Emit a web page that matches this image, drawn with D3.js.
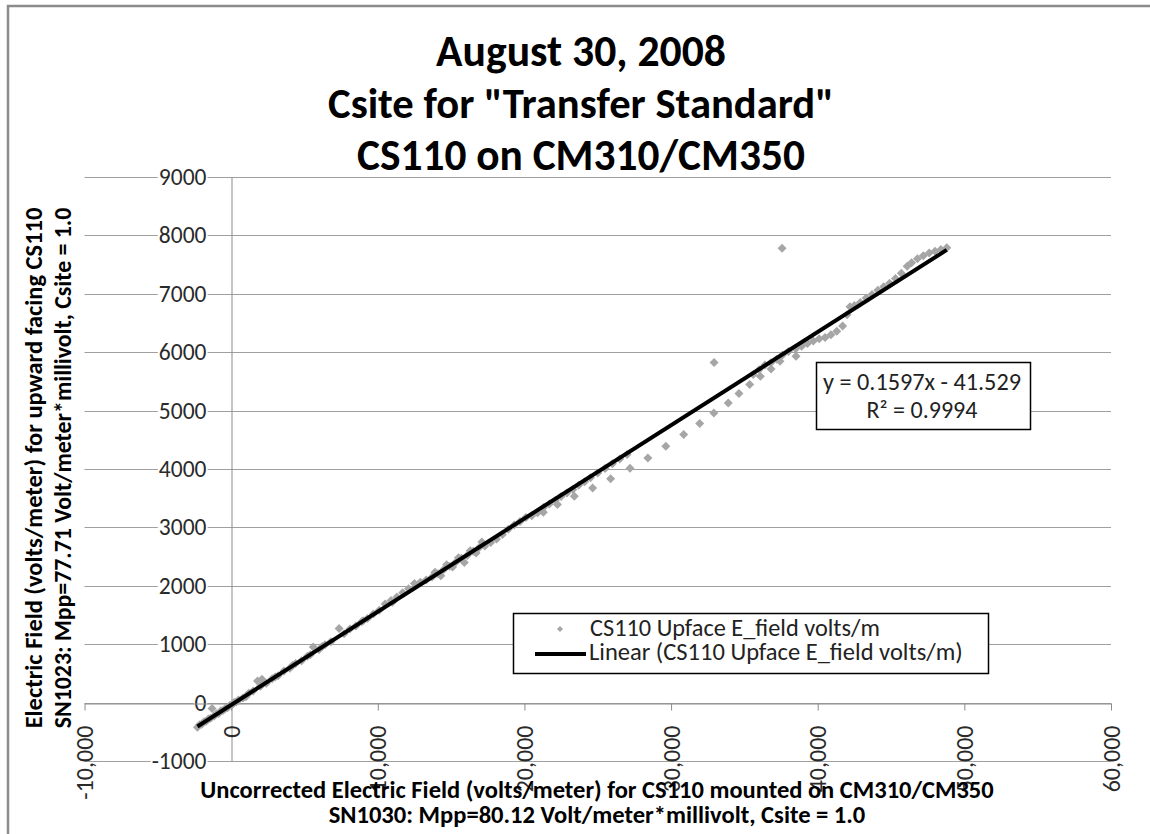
<!DOCTYPE html>
<html>
<head>
<meta charset="utf-8">
<script src="https://cdn.jsdelivr.net/npm/d3@7"></script>
<style>
  body { margin: 0; background: #fff; }
  text { font-family: Carlito, Lato, "Open Sans", sans-serif; }
</style>
</head>
<body>
<svg id="chart"></svg>
<script>
const width = 1150;
const height = 834;

// Text of the chart
const titleLines = ["August 30, 2008", "Csite for \"Transfer Standard\"", "CS110 on CM310/CM350"];
const xTitleLines = [
  "Uncorrected Electric Field (volts/meter) for CS110 mounted on CM310/CM350",
  "SN1030: Mpp=80.12 Volt/meter*millivolt, Csite = 1.0"
];
const yTitleLines = [
  "Electric Field (volts/meter) for upward facing CS110",
  "SN1023: Mpp=77.71 Volt/meter*millivolt, Csite = 1.0"
];
const seriesName = "CS110 Upface E_field volts/m";
const trendName = "Linear (CS110 Upface E_field volts/m)";

// Trendline as printed on the chart
const slope = 0.1597;
const intercept = -41.529;
const rSquared = 0.9994;

// Axis ticks
const xTicks = [-10000, 0, 10000, 20000, 30000, 40000, 50000, 60000];
const yTicks = [-1000, 0, 1000, 2000, 3000, 4000, 5000, 6000, 7000, 8000, 9000];

// Scatter points (uncorrected field, upface field)
const fieldX = [
  -2300, -2150, -2000, -1850, -1700, -1550, -1400, -1300, -1150, -1000,
  -850, -700, -550, -400, -250, -100, 50, 200, 350, 500,
  800, 1200, 1500, 1800, 2100, 2400, 2800, 3200, 3600, 4000,
  4400, 4800, 5200, 5600, 6000, 6400, 6800, 7360, 7700, 8100,
  8500, 8900, 9300, 9700, 10100, 10500, 10900, 11300, 11700, 12100,
  12500, 12900, 13300, 13700, 14100, 14500, 14900, 15300, 15700, 16100,
  16500, 16900, 17300, 17700, 18100, 18500, 18900, 19300, 19700, 20100,
  20500, 20900,
  1000, 2000, 3000, 4200, 5400, 6200, 9000, 11000, 13900, 14300,
  14700, 15100, 15500, 15900, 16300, 16700, 17100,
  21300, 21700, 22100, 22500, 22900, 23300, 23700, 24100, 24500, 25000,
  25500, 26000, 26500, 27000,
  21290, 22250, 23400, 24650, 25880, 27200, 28420, 29640, 30860, 31950,
  32920, 33900, 34630, 35360, 36090, 36820, 37430, 38520,
  32930, 37570,
  35600, 36000, 36400, 36800, 37200, 37600, 38000,
  38500, 38900, 39300, 39700, 40100, 40500, 40900, 41300, 41700, 42000,
  42200, 42500, 42900, 43300, 43700, 44100, 44500, 44900, 45300, 45700,
  46100, 46400, 46800, 47200, 47600, 48000, 48400, 48800
];
const fieldY = [
  -420, -380, -370, -330, -320, -280, -270, -100, -230, -190,
  -185, -140, -135, -100, -90, -50, -40, 0, 10, 45,
  80, 160, 200, 370, 400, 330, 410, 460, 540, 590,
  670, 715, 795, 950, 910, 990, 1040, 1270, 1180, 1260,
  1310, 1385, 1440, 1515, 1580, 1690, 1750, 1810, 1880, 1950,
  2040, 2060, 2100, 2150, 2205, 2280, 2335, 2400, 2470, 2520,
  2590, 2650, 2680, 2740, 2800, 2880, 2970, 3040, 3100, 3170,
  3200, 3250,
  100, 280, 440, 640, 820, 960, 1400, 1720, 2230, 2170,
  2360, 2320, 2480, 2400, 2600, 2560, 2750,
  3340, 3400, 3460, 3530, 3590, 3650, 3720, 3780, 3850, 3930,
  4010, 4090, 4170, 4250,
  3259, 3390, 3533, 3676, 3835, 4012, 4190, 4389, 4589, 4777,
  4960, 5131, 5291, 5445, 5588, 5714, 5845, 5930,
  5822, 7780,
  5620, 5700, 5780, 5820, 5880, 5950, 6010,
  6060, 6101, 6150, 6190, 6230, 6250, 6300, 6358, 6450, 6640,
  6780, 6800, 6850, 6930, 6990, 7060, 7120, 7180, 7260, 7350,
  7470, 7530, 7600, 7650, 7700, 7730, 7760, 7790
];

const points = fieldX.map((x, i) => ({ x: x, y: fieldY[i] }));

const svg = d3.select("#chart")
  .attr("width", width)
  .attr("height", height);

// scale a text's font size so that it spans the wanted width
function fitWidth(sel, w) {
  const len = sel.node().getComputedTextLength();
  sel.attr("font-size", parseFloat(sel.attr("font-size")) * w / len);
}

const x = d3.scaleLinear().domain([-10000, 60000]).range([84.5, 1111]);
const y = d3.scaleLinear().domain([-1000, 9000]).range([761, 177]);

// outer frame of the chart area
svg.append("path")
  .attr("d", `M8,${height}V6H${width}`)
  .attr("fill", "none")
  .attr("stroke", "#8c8c8c")
  .attr("stroke-width", 2.5);

// horizontal gridlines
svg.append("g")
  .selectAll("line")
  .data(yTicks)
  .enter().append("line")
  .attr("x1", x(-10000))
  .attr("x2", x(60000))
  .attr("y1", d => Math.round(y(d)) + 0.5)
  .attr("y2", d => Math.round(y(d)) + 0.5)
  .attr("stroke", "#a0a0a0")
  .attr("stroke-width", 1);

// y axis at x = 0, labels sit left of it with a white patch
const yAxis = svg.append("g")
  .attr("transform", `translate(${Math.round(x(0)) + 0.5},0)`)
  .call(d3.axisLeft(y).tickValues(yTicks).tickSize(0).tickPadding(25)
    .tickFormat(d => String(d)));
yAxis.select(".domain").attr("stroke", "#8c8c8c");
yAxis.selectAll(".tick text")
  .attr("font-size", 23.5)
  .attr("fill", "#2a2a2a")
  .attr("font-family", "Carlito, Lato, sans-serif");
yAxis.selectAll(".tick").each(function() {
  const t = d3.select(this).select("text");
  const b = t.node().getBBox();
  d3.select(this).insert("rect", "text")
    .attr("x", b.x - 1).attr("y", b.y + 3)
    .attr("width", b.width + 2).attr("height", b.height - 6)
    .attr("fill", "#fff");
});

// x axis at y = 0 with rotated labels
const xAxis = svg.append("g")
  .attr("transform", `translate(0,${Math.round(y(0)) + 0.5})`)
  .call(d3.axisBottom(x).tickValues(xTicks).tickSize(7).tickSizeOuter(0)
    .tickFormat(d => d.toLocaleString("en-US")));
xAxis.select(".domain").attr("stroke", "#8c8c8c");
xAxis.selectAll(".tick line").attr("stroke", "#8c8c8c");
xAxis.selectAll(".tick text")
  .attr("font-size", 24)
  .attr("fill", "#2a2a2a")
  .attr("font-family", "Carlito, Lato, sans-serif")
  .attr("text-anchor", "end")
  .attr("transform", "rotate(-90)")
  .attr("x", -22)
  .attr("y", 0)
  .attr("dy", "0.34em");

// scatter points
const diamond = "M0,-4.5L4.5,0L0,4.5L-4.5,0Z";
svg.append("g")
  .selectAll("path")
  .data(points)
  .enter().append("path")
  .attr("d", diamond)
  .attr("transform", d => `translate(${x(d.x)},${y(d.y)})`)
  .attr("fill", "#a6a6a6");

// linear trendline over the data range
const xr = d3.extent(fieldX);
const trend = xr.map(v => ({ x: v, y: slope * v + intercept }));
svg.append("path")
  .datum(trend)
  .attr("d", d3.line().x(d => x(d.x)).y(d => y(d.y)))
  .attr("fill", "none")
  .attr("stroke", "#000")
  .attr("stroke-width", 4);

// chart title
const titlePos = [{ b: 66, w: 290 }, { b: 118, w: 506 }, { b: 170, w: 448 }];
titleLines.forEach((t, i) => {
  const s = svg.append("text")
    .attr("x", 581).attr("y", titlePos[i].b)
    .attr("text-anchor", "middle")
    .attr("font-size", 40)
    .attr("font-weight", "bold")
    .attr("fill", "#000")
    .text(t);
  fitWidth(s, titlePos[i].w);
});

// x axis title
const xTitlePos = [{ b: 798, w: 794 }, { b: 823, w: 537 }];
xTitleLines.forEach((t, i) => {
  const s = svg.append("text")
    .attr("x", 597).attr("y", xTitlePos[i].b)
    .attr("text-anchor", "middle")
    .attr("font-size", 20)
    .attr("font-weight", "bold")
    .attr("fill", "#000")
    .text(t);
  fitWidth(s, xTitlePos[i].w);
});

// y axis title
const yTitlePos = [{ b: 42, w: 521 }, { b: 71, w: 521 }];
yTitleLines.forEach((t, i) => {
  const s = svg.append("text")
    .attr("transform", `translate(${yTitlePos[i].b},468) rotate(-90)`)
    .attr("text-anchor", "middle")
    .attr("font-size", 20)
    .attr("font-weight", "bold")
    .attr("fill", "#000")
    .text(t);
  fitWidth(s, yTitlePos[i].w);
});

// trendline equation box
svg.append("rect")
  .attr("x", 816.5).attr("y", 362.5)
  .attr("width", 214).attr("height", 67)
  .attr("fill", "#fff")
  .attr("stroke", "#000")
  .attr("stroke-width", 1.5);
const eq1 = svg.append("text")
  .attr("x", 922).attr("y", 390)
  .attr("text-anchor", "middle")
  .attr("font-size", 20).attr("fill", "#222")
  .text(`y = ${slope}x - ${Math.abs(intercept)}`);
fitWidth(eq1, 198);
const eq2 = svg.append("text")
  .attr("x", 922).attr("y", 418)
  .attr("text-anchor", "middle")
  .attr("font-size", 20).attr("fill", "#222")
  .text(`R\u00b2 = ${rSquared}`);
fitWidth(eq2, 111);

// legend
const legend = svg.append("g");
legend.append("rect")
  .attr("x", 513.5).attr("y", 613.5)
  .attr("width", 475).attr("height", 60)
  .attr("fill", "#fff")
  .attr("stroke", "#000")
  .attr("stroke-width", 1.5);
legend.append("path")
  .attr("d", "M0,-3L3,0L0,3L-3,0Z")
  .attr("transform", "translate(560,629)")
  .attr("fill", "#a6a6a6");
legend.append("line")
  .attr("x1", 535).attr("x2", 586)
  .attr("y1", 654).attr("y2", 654)
  .attr("stroke", "#000").attr("stroke-width", 4);
const lg1 = legend.append("text")
  .attr("x", 590).attr("y", 636)
  .attr("font-size", 20).attr("fill", "#222")
  .text(seriesName);
fitWidth(lg1, 290);
const lg2 = legend.append("text")
  .attr("x", 589).attr("y", 660)
  .attr("font-size", 20).attr("fill", "#222")
  .text(trendName);
fitWidth(lg2, 374);
</script>
</body>
</html>
